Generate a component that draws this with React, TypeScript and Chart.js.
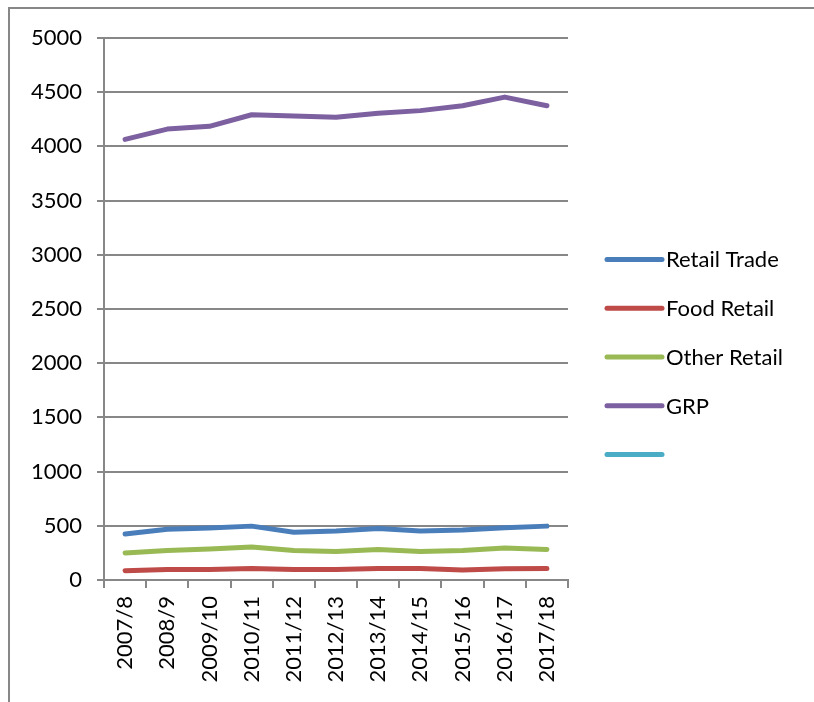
import React, { useEffect, useRef } from 'react';
import { Chart, registerables } from 'chart.js';

Chart.register(...registerables);

const categories = ['2007/8', '2008/9', '2009/10', '2010/11', '2011/12', '2012/13', '2013/14', '2014/15', '2015/16', '2016/17', '2017/18'];
const retailTrade = [425, 468, 480, 497, 440, 452, 475, 452, 462, 482, 497];
const foodRetail = [85, 98, 98, 107, 98, 98, 107, 107, 93, 104, 107];
const otherRetail = [250, 273, 285, 305, 273, 262, 282, 262, 273, 295, 282];
const grp = [4065, 4160, 4185, 4292, 4280, 4268, 4305, 4330, 4375, 4455, 4375];
const emptySeries: number[] = [];

const seriesLabels = ['Retail Trade', 'Food Retail', 'Other Retail', 'GRP', ''];
const seriesColors = ['#4A7EBB', '#BE4B48', '#98B954', '#7D60A0', '#4BACC6'];

const FONT = 'Lato, "Open Sans", sans-serif';
const GRID = '#878787';

export default function App() {
  const ref = useRef<HTMLCanvasElement>(null);

  useEffect(() => {
    if (!ref.current) return;
    const sideLegend = {
      id: 'sideLegend',
      afterDraw(chart: any) {
        const ctx = chart.ctx;
        const area = chart.chartArea;
        const x0 = area.right + 39;
        const spacing = 48.8;
        const n = chart.data.datasets.length;
        const yc = 348;
        ctx.save();
        ctx.font = `22px ${FONT}`;
        ctx.textBaseline = 'middle';
        ctx.textAlign = 'left';
        chart.data.datasets.forEach((ds: any, i: number) => {
          const y = yc + (i - (n - 1) / 2) * spacing;
          ctx.strokeStyle = ds.borderColor;
          ctx.lineWidth = 5;
          ctx.lineCap = 'round';
          ctx.beginPath();
          ctx.moveTo(x0, y);
          ctx.lineTo(x0 + 55, y);
          ctx.stroke();
          ctx.fillStyle = '#000';
          ctx.fillText(ds.label, x0 + 59, y + 1);
        });
        ctx.restore();
      },
    };

    const allSeries = [retailTrade, foodRetail, otherRetail, grp, emptySeries];
    const chart = new Chart(ref.current, {
      type: 'line',
      data: {
        labels: categories,
        datasets: allSeries.map((d, i) => ({
          label: seriesLabels[i],
          data: d,
          borderColor: seriesColors[i],
          backgroundColor: seriesColors[i],
          borderWidth: 5,
          borderCapStyle: 'round',
          borderJoinStyle: 'round',
          pointRadius: 0,
          tension: 0,
          fill: false,
        })),
      },
      options: {
        animation: false,
        responsive: true,
        maintainAspectRatio: false,
        layout: { padding: { top: 29, right: 246, left: 0, bottom: 0 } },
        plugins: {
          legend: { display: false },
          tooltip: { enabled: false },
        },
        scales: {
          x: {
            offset: true,
            grid: { offset: true, drawOnChartArea: false, drawTicks: true, tickLength: 8, color: GRID, lineWidth: 2 },
            border: { color: GRID, width: 2 },
            ticks: { minRotation: 90, maxRotation: 90, padding: 8, color: '#000', font: { family: FONT, size: 22 }, autoSkip: false },
            afterFit: (s: any) => { s.height = 124; },
          },
          y: {
            min: 0,
            max: 5000,
            grid: { color: GRID, lineWidth: 2, tickLength: 7 },
            border: { color: GRID, width: 2 },
            ticks: { stepSize: 500, padding: 15, color: '#000', font: { family: FONT, size: 22 }, callback: (v: any) => String(v) },
            afterFit: (s: any) => { s.width = 94; },
          },
        },
      },
      plugins: [sideLegend],
    } as any);
    return () => chart.destroy();
  }, []);

  return (
    <div
      style={{
        position: 'fixed',
        left: 8,
        top: 7,
        width: 804,
        height: 695,
        borderLeft: `2px solid ${GRID}`,
        borderTop: `2px solid ${GRID}`,
      }}
    >
      <canvas ref={ref} />
    </div>
  );
}
